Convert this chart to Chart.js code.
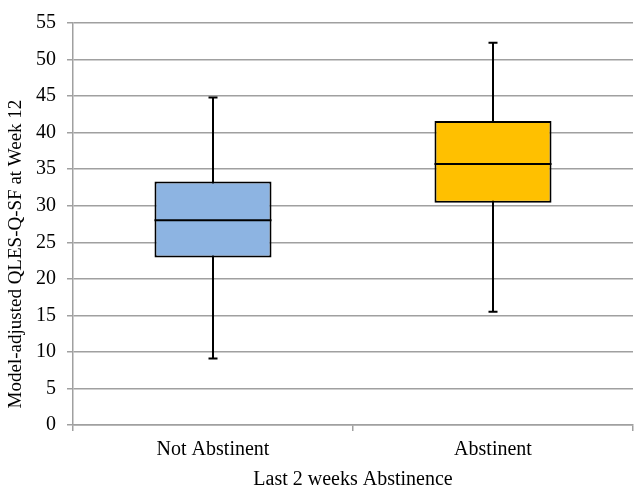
<!DOCTYPE html>
<html>
<head>
<meta charset="utf-8">
<script src="https://cdn.jsdelivr.net/npm/chart.js@4/dist/chart.umd.min.js"></script>
<style>
  body { margin: 0; background: #fff; }
</style>
</head>
<body>
<canvas id="boxChart" width="641" height="492"></canvas>
<script>
const ctx = document.getElementById("boxChart");

const categories = ["Not Abstinent", "Abstinent"];
const minValues = [9.1, 15.5];
const q1Values = [22.9, 30.4];
const medianValues = [28.0, 35.7];
const q3Values = [33.3, 41.6];
const maxValues = [44.8, 52.3];
const boxColors = ["#8DB4E2", "#FFC000"];

const yTitle = "Model-adjusted QLES-Q-SF at Week 12";
const xTitle = "Last 2 weeks Abstinence";

const gridColor = "#a0a0a0";
const fontFamily = "'Liberation Serif', 'Times New Roman', serif";

// whiskers behind the boxes, median line on top
const boxPlotPlugin = {
  id: "boxPlotLines",
  beforeDatasetsDraw(chart) {
    const c = chart.ctx;
    const yScale = chart.scales.y;
    const bars = chart.getDatasetMeta(0).data;
    c.save();
    c.strokeStyle = "#000";
    c.lineWidth = 2;
    bars.forEach((bar, i) => {
      const yMin = yScale.getPixelForValue(minValues[i]);
      const yMax = yScale.getPixelForValue(maxValues[i]);
      c.beginPath();
      c.moveTo(bar.x, yMin);
      c.lineTo(bar.x, yMax);
      c.moveTo(bar.x - 4.5, yMin);
      c.lineTo(bar.x + 4.5, yMin);
      c.moveTo(bar.x - 4.5, yMax);
      c.lineTo(bar.x + 4.5, yMax);
      c.stroke();
    });
    c.restore();
  },
  afterDatasetsDraw(chart) {
    const c = chart.ctx;
    const yScale = chart.scales.y;
    const bars = chart.getDatasetMeta(0).data;
    c.save();
    c.strokeStyle = "#000";
    c.lineWidth = 2;
    bars.forEach((bar, i) => {
      const yMed = yScale.getPixelForValue(medianValues[i]);
      c.beginPath();
      c.moveTo(bar.x - bar.width / 2, yMed);
      c.lineTo(bar.x + bar.width / 2, yMed);
      c.stroke();
    });
    c.restore();
  },
};

// y axis title, placed like the original (centred on the figure height)
const yTitlePlugin = {
  id: "yTitle",
  afterDraw(chart) {
    const c = chart.ctx;
    c.save();
    c.translate(16, 254);
    c.rotate(-Math.PI / 2);
    c.font = "19px " + fontFamily;
    c.fillStyle = "#000";
    c.textAlign = "center";
    c.textBaseline = "middle";
    c.fillText(yTitle, 0, 0);
    c.restore();
  },
};

new Chart(ctx, {
  type: "bar",
  data: {
    labels: categories,
    datasets: [
      {
        label: "Q1 - Q3",
        data: q1Values.map((v, i) => [v, q3Values[i]]),
        backgroundColor: boxColors,
        borderColor: "#000",
        borderWidth: 2,
        borderSkipped: false,
      },
    ],
  },
  options: {
    responsive: false,
    animation: false,
    categoryPercentage: 1,
    barPercentage: 0.418,
    layout: {
      padding: { top: 14, right: 8, left: 0, bottom: 0 },
    },
    plugins: {
      legend: { display: false },
      tooltip: { enabled: false },
    },
    scales: {
      x: {
        grid: {
          drawOnChartArea: false,
          drawTicks: true,
          tickLength: 6,
          color: gridColor,
          lineWidth: 1.5,
        },
        border: { color: gridColor, width: 1.5 },
        ticks: {
          color: "#000",
          padding: 7,
          font: { family: fontFamily, size: 20 },
        },
        title: {
          display: true,
          text: xTitle,
          color: "#000",
          padding: { top: 0, bottom: 0 },
          font: { family: fontFamily, size: 20 },
        },
        afterFit(scale) {
          scale.height = 67;
        },
      },
      y: {
        min: 0,
        max: 55,
        grid: {
          drawTicks: true,
          tickLength: 6,
          color: gridColor,
          lineWidth: 1.5,
        },
        border: { color: gridColor, width: 1.5 },
        ticks: {
          stepSize: 5,
          color: "#000",
          padding: 11,
          font: { family: fontFamily, size: 20 },
        },
        afterFit(scale) {
          scale.width = 73;
        },
      },
    },
  },
  plugins: [boxPlotPlugin, yTitlePlugin],
});
</script>
</body>
</html>
